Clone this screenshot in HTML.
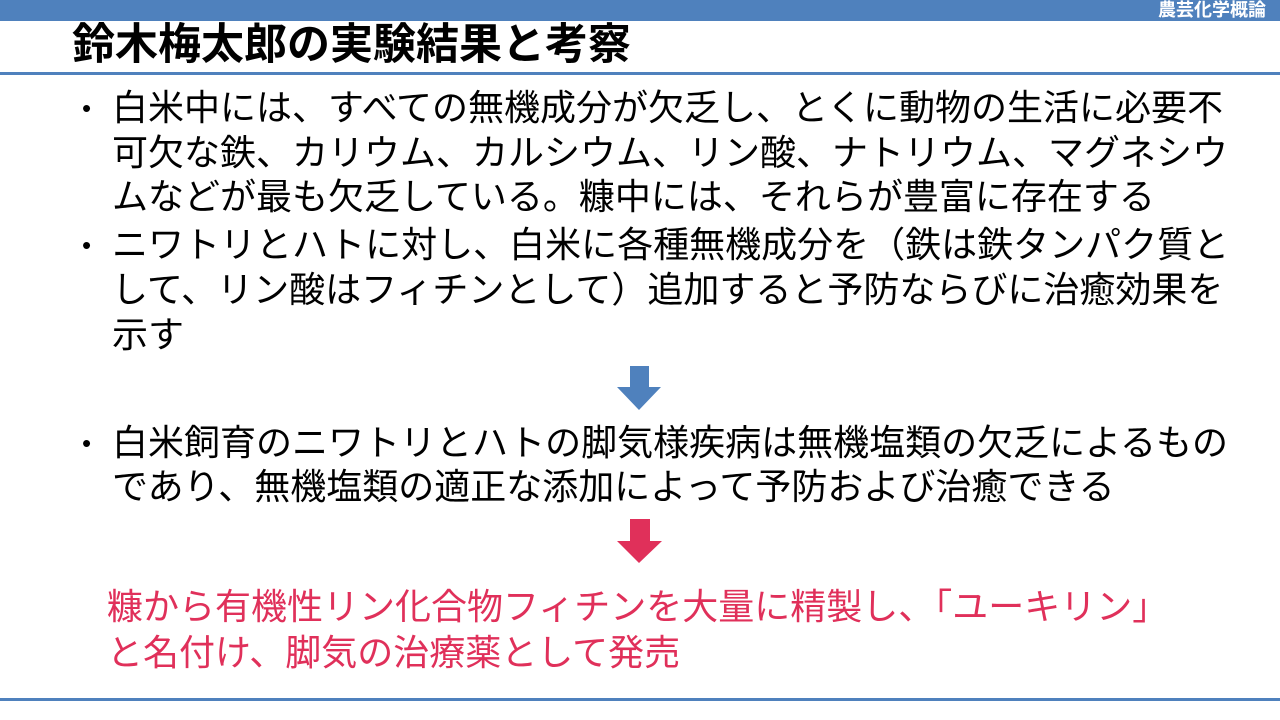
<!DOCTYPE html>
<html><head><meta charset="utf-8"><style>
body{margin:0;width:1280px;height:720px;background:#fff;position:relative;overflow:hidden;font-family:"Liberation Sans","Noto Sans CJK JP",sans-serif;}
.bar{position:absolute;left:0;top:0;width:1280px;height:21px;background:#4f81bd;}
.hdr{position:absolute;right:14px;top:0;height:21px;line-height:21px;color:#fff;font-weight:bold;font-size:18px;}
.title{position:absolute;left:72px;top:21px;line-height:48px;font-size:43px;font-weight:bold;color:#000;white-space:nowrap;}
.l1{position:absolute;left:0;top:72px;width:1280px;height:3px;background:#4f81bd;}
.l2{position:absolute;left:0;top:698px;width:1280px;height:3px;background:#4f81bd;}
.t{position:absolute;left:112px;font-size:36px;line-height:44px;color:#000;white-space:nowrap;}
.b{position:absolute;left:82px;font-size:26px;line-height:44px;}
.r{color:#e0305a;left:107px;}
</style></head><body>
<div class="bar"></div><div class="hdr">農芸化学概論</div>
<div class="title">鈴木梅太郎の実験結果と考察</div>
<div class="l1"></div>
<div class="b" style="top:86px">•</div>
<div class="t" style="top:86px">白米中には、すべての無機成分が欠乏し、とくに動物の生活に必要不</div>
<div class="t" style="top:131px">可欠な鉄、カリウム、カルシウム、リン酸、ナトリウム、マグネシウ</div>
<div class="t" style="top:175px">ムなどが最も欠乏している。糠中には、それらが豊富に存在する</div>
<div class="b" style="top:223px">•</div>
<div class="t" style="top:223px">ニワトリとハトに対し、白米に各種無機成分を（鉄は鉄タンパク質と</div>
<div class="t" style="top:268px">して、リン酸はフィチンとして）追加すると予防ならびに治癒効果を</div>
<div class="t" style="top:313px">示す</div>
<svg style="position:absolute;left:617px;top:366px" width="45" height="45"><polygon points="13,0 32,0 32,21 44,21 22,44 0,21 13,21" fill="#4f81bd"/></svg>
<div class="b" style="top:421px">•</div>
<div class="t" style="top:421px">白米飼育のニワトリとハトの脚気様疾病は無機塩類の欠乏によるもの</div>
<div class="t" style="top:465px">であり、無機塩類の適正な添加によって予防および治癒できる</div>
<svg style="position:absolute;left:617px;top:519px" width="46" height="45"><polygon points="13,0 33,0 33,22 45,22 22,44 0,22 13,22" fill="#e0305a"/></svg>
<div class="t r" style="top:585px">糠から有機性リン化合物フィチンを大量に精製し、「ユーキリン」</div>
<div class="t r" style="top:631px">と名付け、脚気の治療薬として発売</div>
<div class="l2"></div>
</body></html>
